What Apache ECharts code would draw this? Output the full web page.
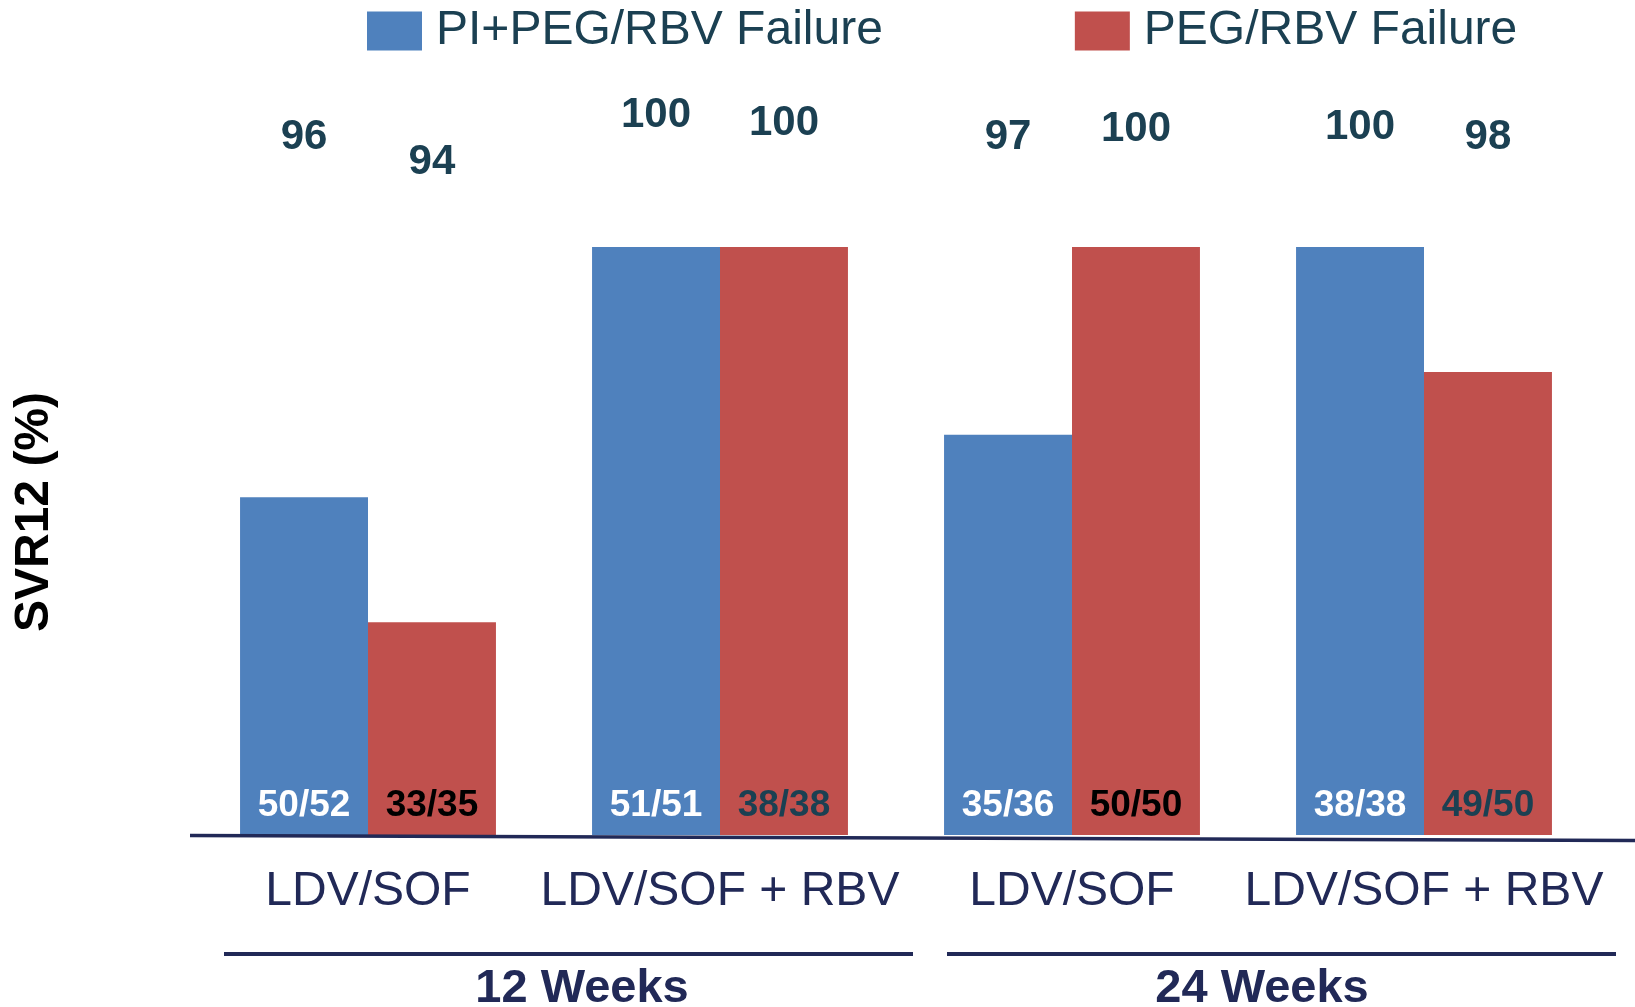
<!DOCTYPE html>
<html><head><meta charset="utf-8">
<script src="https://cdn.jsdelivr.net/npm/echarts@6/dist/echarts.min.js"></script>
<style>html,body{margin:0;padding:0;background:#fff}#c{width:1635px;height:1007px}</style>
</head><body><div id="c"></div>
<script>
// ---- data ----
const categories = ['LDV/SOF', 'LDV/SOF + RBV', 'LDV/SOF', 'LDV/SOF + RBV'];
const groupLabels = ['12 Weeks', '24 Weeks'];
const seriesNames = ['PI+PEG/RBV Failure', 'PEG/RBV Failure'];
const piValues = [96, 100, 97, 100];
const pegValues = [94, 100, 100, 98];
const piFractions = ['50/52', '51/51', '35/36', '38/38'];
const pegFractions = ['33/35', '38/38', '50/50', '49/50'];

// ---- styles / layout ----
const FONT = 'Liberation Sans, Arial, sans-serif';
const BLUE = '#4f81bd', RED = '#c0504d', TEAL = '#1b4052', NAVY = '#212957';
const pegFracColors = ['#000000', TEAL, '#000000', TEAL];
const piPctY = [137, 115, 137, 127];
const pegPctY = [162, 123, 129, 137];

const chart = echarts.init(document.getElementById('c'));
const fracLabel = {
  show: true, position: 'insideBottom', distance: 11,
  fontFamily: FONT, fontWeight: 'bold', fontSize: 37
};
const pctLabel = {
  show: true, position: 'top', color: TEAL,
  fontFamily: FONT, fontWeight: 'bold', fontSize: 42,
  formatter: p => String(p.value)
};
chart.setOption({
  animation: false,
  legend: {
    data: seriesNames, left: 362, top: 2,
    itemWidth: 55, itemHeight: 39, itemGap: 192,
    icon: 'rect',
    textStyle: { fontFamily: FONT, fontSize: 48, color: TEAL, padding: [0, 0, 0, 9] }
  },
  grid: { left: 192, right: 35, top: 247, bottom: 172 },
  xAxis: [
    {
      type: 'category', data: categories,
      axisLine: { show: false },
      axisTick: { show: false },
      axisLabel: { fontFamily: FONT, fontSize: 48, color: NAVY, margin: 33, interval: 0 }
    },
    { type: 'category', data: categories, show: false }
  ],
  yAxis: {
    type: 'value', min: 90.6, max: 100,
    name: 'SVR12 (%)', nameLocation: 'middle', nameRotate: 90, nameGap: 133,
    nameTextStyle: { fontFamily: FONT, fontWeight: 'bold', fontSize: 48, color: '#000', padding: [0, 0, 0, 58] },
    axisLine: { show: false }, axisTick: { show: false },
    axisLabel: { show: false }, splitLine: { show: false }
  },
  series: [
    {
      name: seriesNames[0], type: 'bar', xAxisIndex: 0,
      barGap: '0%', barCategoryGap: '27.3%',
      itemStyle: { color: BLUE },
      label: Object.assign({}, fracLabel, { color: '#fff', formatter: p => piFractions[p.dataIndex] }),
      data: piValues
    },
    {
      name: seriesNames[1], type: 'bar', xAxisIndex: 0,
      barGap: '0%', barCategoryGap: '27.3%',
      itemStyle: { color: RED },
      label: Object.assign({}, fracLabel, { formatter: p => pegFractions[p.dataIndex] }),
      data: pegValues.map((v, i) => ({ value: v, label: { color: pegFracColors[i] } }))
    },
    {
      name: 'pi-pct', type: 'bar', xAxisIndex: 1, silent: true,
      barGap: '0%', barCategoryGap: '27.3%',
      itemStyle: { color: 'rgba(0,0,0,0)' },
      label: pctLabel,
      labelLayout: p => ({ x: p.rect.x + p.rect.width / 2, y: piPctY[p.dataIndex], align: 'center', verticalAlign: 'middle' }),
      data: piValues
    },
    {
      name: 'peg-pct', type: 'bar', xAxisIndex: 1, silent: true,
      barGap: '0%', barCategoryGap: '27.3%',
      itemStyle: { color: 'rgba(0,0,0,0)' },
      label: pctLabel,
      labelLayout: p => ({ x: p.rect.x + p.rect.width / 2, y: pegPctY[p.dataIndex], align: 'center', verticalAlign: 'middle' }),
      data: pegValues
    }
  ],
  graphic: [
    { type: 'line', z: 10, shape: { x1: 190, y1: 835.5, x2: 1635, y2: 840.5 }, style: { stroke: NAVY, lineWidth: 3.5 } },
    { type: 'line', shape: { x1: 224, y1: 954, x2: 913, y2: 954 }, style: { stroke: NAVY, lineWidth: 4 } },
    { type: 'line', shape: { x1: 947, y1: 954, x2: 1616, y2: 954 }, style: { stroke: NAVY, lineWidth: 4 } },
    { type: 'text', x: 582, y: 989, style: { text: groupLabels[0], fill: NAVY, font: 'bold 47px ' + FONT, textAlign: 'center', textVerticalAlign: 'middle' } },
    { type: 'text', x: 1262, y: 989, style: { text: groupLabels[1], fill: NAVY, font: 'bold 47px ' + FONT, textAlign: 'center', textVerticalAlign: 'middle' } }
  ]
});
</script></body></html>
